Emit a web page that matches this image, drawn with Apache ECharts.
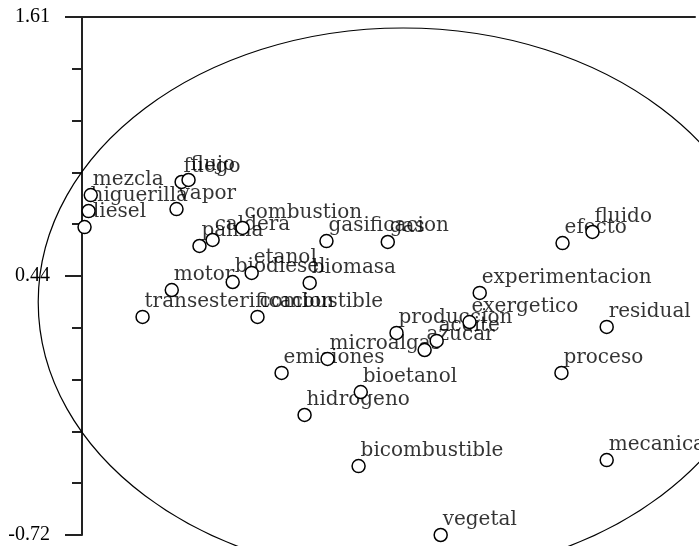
<!DOCTYPE html>
<html>
<head>
<meta charset="utf-8">
<script src="https://cdn.jsdelivr.net/npm/echarts@6/dist/echarts.min.js"></script>
<style>html,body{margin:0;padding:0;background:#fff;}#c{width:699px;height:546px;}</style>
</head>
<body>
<div id="c"></div>
<script>
const categories = ['mezcla','higuerilla','diesel','fuego','flujo','vapor','palma','caldera','combustion','gasificacion','gas','etanol','biodiesel','motor','transesterificacion','combustible','biomasa','efecto','fluido','experimentacion','exergetico','residual','produccion','aceite','azucar','microalgas','emisiones','proceso','bioetanol','hidrogeno','bicombustible','mecanica','vegetal'];
const xValues = [-0.856,-0.862,-0.873,-0.607,-0.588,-0.621,-0.558,-0.522,-0.440,-0.210,-0.042,-0.415,-0.467,-0.634,-0.714,-0.399,-0.256,0.437,0.519,0.210,0.182,0.558,-0.018,0.092,0.059,-0.207,-0.333,0.434,-0.116,-0.270,-0.122,0.558,0.103];
const yValues = [0.809,0.737,0.665,0.868,0.877,0.746,0.580,0.607,0.661,0.602,0.598,0.459,0.418,0.382,0.261,0.261,0.414,0.593,0.643,0.369,0.238,0.216,0.189,0.153,0.112,0.072,0.009,0.009,-0.077,-0.180,-0.410,-0.383,-0.720];
const yTickLabels = ['-0.72','0.44','1.61'];
const yTickValues = [-0.72,0.445,1.61];
const ellipse = [0, 0.328, 1.0, 1.2325]; // centre x, centre y, radius x, radius y (data units)

const points = categories.map((n,i)=>[xValues[i], yValues[i], n]);

const chart = echarts.init(document.getElementById('c'));
chart.setOption({
  animation: false,
  backgroundColor: '#fff',
  grid: {left: 82, right: 4, top: 17, bottom: 11},
  xAxis: {
    type: 'value', position: 'top', min: -0.88, max: 0.80,
    axisLine: {show: true, onZero: false, lineStyle: {color: '#222', width: 2}},
    axisTick: {show: false}, axisLabel: {show: false}, splitLine: {show: false}
  },
  yAxis: {
    type: 'value', min: -0.72, max: 1.61, interval: 1.165,
    axisLine: {show: true, onZero: false, lineStyle: {color: '#222', width: 2}},
    axisTick: {show: true, inside: false, length: 17, lineStyle: {color: '#222', width: 2}},
    minorTick: {show: true, splitNumber: 5, length: 10, lineStyle: {color: '#222', width: 2}},
    splitLine: {show: false}, minorSplitLine: {show: false},
    axisLabel: {
      margin: 32, color: '#000', fontFamily: 'Liberation Serif', fontSize: 20,
      formatter: function (v) {
        let best = 0;
        yTickValues.forEach((t, i) => { if (Math.abs(t - v) < Math.abs(yTickValues[best] - v)) best = i; });
        return yTickLabels[best];
      }
    }
  },
  series: [
    {
      type: 'custom', z: 1, silent: true, clip: false,
      data: [ellipse],
      renderItem: function (params, api) {
        const c = api.coord([api.value(0), api.value(1)]);
        const s = api.size([api.value(2), api.value(3)]);
        return {type: 'ellipse', shape: {cx: c[0], cy: c[1], rx: s[0], ry: s[1]},
                style: {fill: 'none', stroke: '#000', lineWidth: 1.2}};
      }
    },
    {
      type: 'scatter', z: 2, silent: true, data: points,
      symbol: 'circle', symbolSize: 1, itemStyle: {color: 'rgba(0,0,0,0)'},
      label: {show: true, formatter: p => p.data[2], position: [2.5, -5], align: 'left', verticalAlign: 'bottom',
              fontFamily: 'DejaVu Serif', fontSize: 20, color: '#000'}
    },
    {
      type: 'scatter', z: 3, silent: true, data: points,
      symbol: 'circle', symbolSize: 13,
      itemStyle: {color: '#fff', borderColor: '#000', borderWidth: 1.5, opacity: 1}
    }
  ]
});
</script>
</body>
</html>
